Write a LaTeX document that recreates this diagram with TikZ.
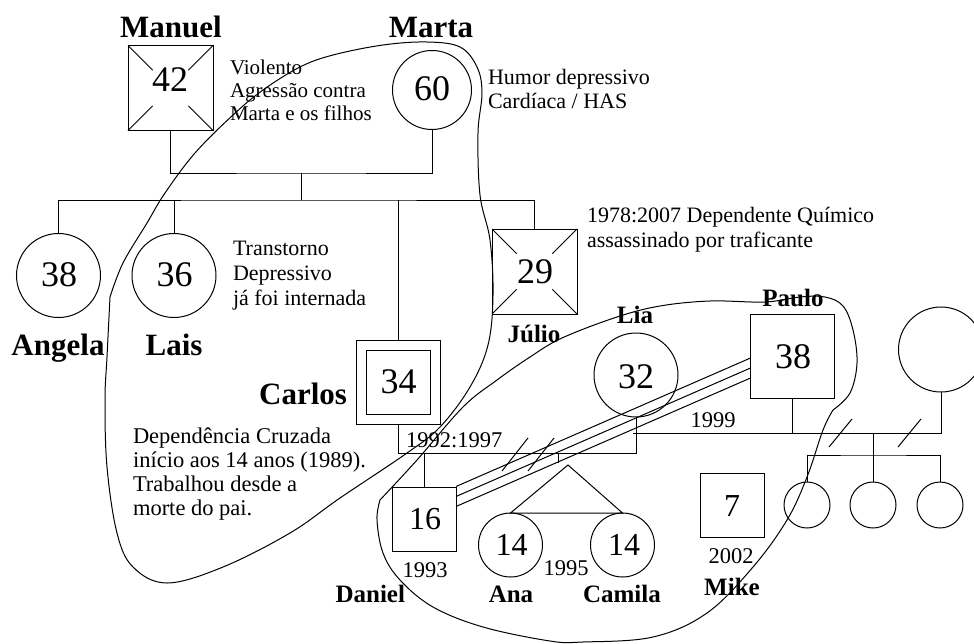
\documentclass[tikz,border=0pt]{standalone}
\usepackage{fontspec}
\setmainfont{Liberation Serif}
\usetikzlibrary{calc}
\begin{document}
\begin{tikzpicture}[x=1pt,y=-1pt,line width=1pt,
 every node/.style={inner sep=0pt,outer sep=0pt},
 sq/.style={draw,rectangle,minimum size=#1},
 ci/.style={draw,circle,minimum size=#1},
 num/.style={font=\fontsize{36}{36}\selectfont},
 snum/.style={font=\fontsize{32}{32}\selectfont},
 bname/.style={font=\bfseries\fontsize{31}{31}\selectfont,anchor=base},
 sname/.style={font=\bfseries\fontsize{25}{25}\selectfont,anchor=base},
 note/.style={font=\fontsize{22}{24}\selectfont,anchor=base west},
 yr/.style={font=\fontsize{22.5}{24}\selectfont,anchor=base},
 hand/.style={line width=1pt}]
\useasboundingbox (0,0) rectangle (974,643);

% ---------- persons ----------
\node[sq=85] (manuel) at (170.5,88) {};
\node[ci=79] (marta) at (432,90) {};
\node[ci=84] (angela) at (58.5,275.5) {};
\node[ci=84] (lais) at (174,275.5) {};
\node[sq=85] (julio) at (534.5,271.5) {};
\node[sq=84] (carlos) at (398,382) {};
\node[sq=64] (carlosin) at (398,382) {};
\node[ci=84] (lia) at (636,375) {};
\node[sq=84] (paulo) at (792.5,356) {};
\node[ci=85] (partner) at (941,349.5) {};
\node[sq=64] (daniel) at (424,519.5) {};
\node[ci=64] (ana) at (510.5,545) {};
\node[ci=64] (camila) at (622.5,545) {};
\node[sq=64] (mike) at (732,505) {};
\node[ci=46] (c1) at (807,505) {};
\node[ci=46] (c2) at (873,505) {};
\node[ci=46] (c3) at (940,505) {};

% crosses (deceased)
\foreach \p in {manuel,julio}{
  \draw (\p.north west) -- ($(\p.north west)!0.29!(\p.south east)$);
  \draw (\p.south east) -- ($(\p.south east)!0.29!(\p.north west)$);
  \draw (\p.north east) -- ($(\p.north east)!0.29!(\p.south west)$);
  \draw (\p.south west) -- ($(\p.south west)!0.29!(\p.north east)$);
}

% ---------- ages ----------
\node[num] (t42) at (170,80) {42};
\node[num] (t60) at (432,89) {60};
\node[num] (t38a) at (59,275) {38};
\node[num] (t36) at (174.5,275) {36};
\node[num] (t29) at (535,272) {29};
\node[num] (t34) at (398.5,382) {34};
\node[num] (t32) at (636,377) {32};
\node[num] (t38p) at (793,357) {38};
\node[snum] (t16) at (425,519) {16};
\node[snum] (t14a) at (511.5,545) {14};
\node[snum] (t14c) at (624,545) {14};
\node[snum] (t7) at (732,506) {7};

% ---------- names ----------
\node[bname] (lManuel) at (171,37) {Manuel};
\node[bname] (lMarta) at (431,37) {Marta};
\node[bname] (lAngela) at (58,355) {Angela};
\node[bname] (lLais) at (174,355) {Lais};
\node[bname,anchor=base east] (lCarlos) at (347,404) {Carlos};
\node[sname] (lJulio) at (534,342) {Júlio};
\node[sname] (lLia) at (635,323) {Lia};
\node[sname] (lPaulo) at (793,306) {Paulo};
\node[sname,anchor=base east] (lDaniel) at (405,602) {Daniel};
\node[sname] (lAna) at (511,602) {Ana};
\node[sname] (lCamila) at (622,602) {Camila};
\node[sname] (lMike) at (732,595) {Mike};

% ---------- years ----------
\node[yr] (y1993) at (425,577) {1993};
\node[yr] (y1995) at (566,575) {1995};
\node[yr] (y2002) at (731,563) {2002};
\node[yr] (y1999) at (713,427) {1999};
\node[yr,anchor=base west] (y9297) at (406,447) {1992:1997};

% ---------- annotations ----------
\node[note,font=\fontsize{21}{23}\selectfont] (aManuel) at (230,74)
  {\begin{tabular}[t]{@{}l@{}}Violento\\Agressão contra\\Marta e os filhos\end{tabular}};
\node[note] (aMarta) at (488,84)
  {\begin{tabular}[t]{@{}l@{}}Humor depressivo\\Cardíaca / HAS\end{tabular}};
\node[note,font=\fontsize{22}{25}\selectfont] (aLais) at (233,255)
  {\begin{tabular}[t]{@{}l@{}}Transtorno\\Depressivo\\já foi internada\end{tabular}};
\node[note,font=\fontsize{22}{25}\selectfont] (aJulio) at (587,222)
  {\begin{tabular}[t]{@{}l@{}}1978:2007 Dependente Químico\\assassinado por traficante\end{tabular}};
\node[note,font=\fontsize{22.5}{24}\selectfont] (aCarlos) at (133,443)
  {\begin{tabular}[t]{@{}l@{}}Dependência Cruzada\\início aos 14 anos (1989).\\Trabalhou desde a\\morte do pai.\end{tabular}};

% ---------- family lines ----------
\coordinate (pm) at (301,173);
\coordinate (sib) at (301,200);
\draw (manuel.south) |- (pm) -| (marta.south);
\draw (pm) -- (sib);
\draw (angela.north) |- (sib) -| (julio.north);
\draw (lais.north) -- (lais.north |- sib);
\draw (carlos.north) -- (carlos.north |- sib);

% Carlos -- Lia (separated)
\coordinate (cl) at (398,453);
\coordinate (lc) at (636,453);
\draw (carlos.south) -- (cl) -- (lc) -- (lia.south);
\draw (daniel.north) -- (daniel.north |- cl);
\coordinate (tw1) at (558,453);
\coordinate (tw2) at (558,463);
\draw (tw1) -- (tw2);
\coordinate (apex) at (568,465);
\draw (ana.north) -- (apex) -- (camila.north) -- cycle;
\coordinate (s1a) at (502,471); \coordinate (s1b) at (528,438);
\coordinate (s2a) at (528,471); \coordinate (s2b) at (554,438);
\draw (s1a) -- (s1b);
\draw (s2a) -- (s2b);

% Lia -- Paulo -- partner
\coordinate (l99) at (633,433);
\draw (l99) -- (partner.south |- l99) -- (partner.south);
\draw (paulo.south) -- (paulo.south |- l99);
\coordinate (kd) at (873,433);
\coordinate (kb) at (873,455);
\draw (kd) -- (c2.north);
\draw (c1.north) |- (kb) -| (c3.north);
\coordinate (s3a) at (829,447); \coordinate (s3b) at (852,419);
\coordinate (s4a) at (898,447); \coordinate (s4b) at (921,419);
\draw (s3a) -- (s3b);
\draw (s4a) -- (s4b);

% Daniel === Paulo (fused relation)
\draw ($(daniel.north east)+(0,-1)$) -- ($(paulo.west)+(0,2)$);
\draw ($(daniel.north east)+(0,9)$) -- ($(paulo.west)+(0,12)$);
\draw ($(daniel.north east)+(0,19)$) -- ($(paulo.west)+(0,22)$);

% ---------- hand drawn loops ----------
\draw[hand] plot[smooth,tension=0.6] coordinates {
 (110,297) (123,263) (147,223) (165,193) (195,153) (233,115) (263,90)
 (300,67) (333,55) (383,45) (427,42) (460,47) (477,67) (482,93)
 (478,133) (480,195) (490,240) (493,295) (488,345) (470,387) (440,427)
 (407,453) (340,498) (290,533) (223,567) (167,583) (133,567) (117,533)
 (107,467) (105,400) (107,357) (110,297)};
\draw[hand] plot[smooth,tension=0.6] coordinates {
 (380,500) (417,460) (463,407) (497,380) (530,357) (562,338) (617,317)
 (660,306) (710,301) (765,302) (800,297) (825,297) (843,306) (853,330)
 (857,363) (850,393) (833,410)};
\draw[hand] plot[smooth,tension=0.6] coordinates {
 (833,410) (823,430) (807,477) (787,520) (753,567) (707,613) (653,637)
 (583,642) (550,641) (483,627) (433,607) (400,580) (383,553) (377,520)
 (380,500)};
\end{tikzpicture}
\end{document}
